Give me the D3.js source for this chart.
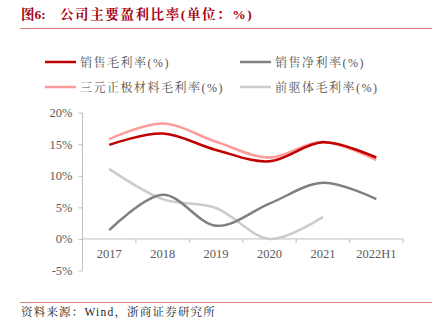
<!DOCTYPE html>
<html>
<head>
<meta charset="utf-8">
<script src="https://cdn.jsdelivr.net/npm/d3@7"></script>
<style>
  html, body { margin: 0; padding: 0; background: #fff; }
  svg { display: block; }
</style>
</head>
<body>
<svg id="chart" width="436" height="329"></svg>
<script>
// 年份
var years = ["2017", "2018", "2019", "2020", "2021", "2022H1"];
// 各项盈利比率 (%)
var grossMargin = [14.9, 16.7, 14.1, 12.3, 15.3, 12.9];
var netMargin = [1.4, 7.0, 2.1, 5.6, 8.9, 6.3];
var cathodeMargin = [15.8, 18.3, 15.4, 12.9, 15.4, 12.5];
var precursorMargin = [11.1, 6.3, 4.9, 0.0, 3.5];
var yTicks = [-5, 0, 5, 10, 15, 20];

var series = [
  { name: "销售毛利率(%)", values: grossMargin, color: "#c00000" },
  { name: "销售净利率(%)", values: netMargin, color: "#808080" },
  { name: "三元正极材料毛利率(%)", values: cathodeMargin, color: "#ff9b9b" },
  { name: "前驱体毛利率(%)", values: precursorMargin, color: "#cccccc" }
];
// 绘制顺序：浅色在下
var drawOrder = [3, 1, 2, 0];

var serif = "'Liberation Serif', 'Times New Roman', 'Noto Serif CJK SC', 'Noto Sans CJK SC', serif";
var svg = d3.select("#chart");

// 标题与分隔线
svg.append("text")
  .attr("x", 21).attr("y", 19)
  .attr("fill", "#a80010")
  .attr("font-family", serif)
  .attr("font-size", 13.5)
  .attr("font-weight", "bold")
  .text("图6:");
svg.append("text")
  .attr("x", 60).attr("y", 19)
  .attr("fill", "#a80010")
  .attr("font-family", serif)
  .attr("font-size", 13.5)
  .attr("font-weight", "bold")
  .attr("letter-spacing", 1.6)
  .text("公司主要盈利比率(单位：%)");
svg.append("line")
  .attr("x1", 20).attr("x2", 432).attr("y1", 28.5).attr("y2", 28.5)
  .attr("stroke", "#e08080").attr("stroke-width", 1.2);

svg.append("line")
  .attr("x1", 20).attr("x2", 432).attr("y1", 302.5).attr("y2", 302.5)
  .attr("stroke", "#e08080").attr("stroke-width", 1.2);
svg.append("text")
  .attr("x", 21).attr("y", 316)
  .attr("fill", "#222")
  .attr("font-family", serif)
  .attr("font-size", 11.5)
  .attr("letter-spacing", 1.2)
  .text("资料来源：Wind，浙商证券研究所");

// 图例
var legendPos = [[45, 62], [240, 62], [45, 87], [240, 87]];
series.forEach(function(s, i) {
  var g = svg.append("g").attr("transform", "translate(" + legendPos[i][0] + "," + legendPos[i][1] + ")");
  g.append("line").attr("x1", 0).attr("x2", 31).attr("y1", 0).attr("y2", 0)
    .attr("stroke", s.color).attr("stroke-width", 2.5);
  g.append("text").attr("x", 35).attr("y", 4.5)
    .attr("fill", "#555")
    .attr("font-family", serif)
    .attr("font-size", 12)
    .attr("letter-spacing", 1.5)
    .text(s.name);
});

// 坐标轴
var plotLeft = 82.5, plotRight = 403;
var x = d3.scaleBand().domain(years).range([plotLeft, plotRight]);
var y = d3.scaleLinear().domain([-5, 20]).range([270.5, 112.7]);

var yAxis = svg.append("g")
  .attr("transform", "translate(" + plotLeft + ",0)")
  .call(d3.axisLeft(y).tickValues(yTicks).tickSize(4).tickPadding(6)
    .tickFormat(function(d) { return d + "%"; }));
yAxis.select(".domain").attr("stroke", "#bfbfbf").attr("d", "M0," + y(-5) + "V" + y(20));
yAxis.selectAll(".tick line").attr("stroke", "#bfbfbf");
yAxis.selectAll(".tick text")
  .attr("fill", "#595959").attr("font-family", serif).attr("font-size", 12.5);

var xAxis = svg.append("g")
  .attr("transform", "translate(0," + y(0) + ")")
  .call(d3.axisBottom(x).tickSize(0).tickPadding(10));
xAxis.select(".domain").attr("stroke", "#bfbfbf").attr("d", "M" + plotLeft + ",0H" + plotRight);
xAxis.selectAll(".tick text")
  .attr("fill", "#595959").attr("font-family", serif).attr("font-size", 12.5);
// 类别分隔刻度
xAxis.selectAll(".sep")
  .data(years.concat(["end"]))
  .enter().append("line")
  .attr("x1", function(d, i) { return plotLeft + i * x.step(); })
  .attr("x2", function(d, i) { return plotLeft + i * x.step(); })
  .attr("y1", 0).attr("y2", 4)
  .attr("stroke", "#bfbfbf");

// 平滑折线
var line = d3.line()
  .x(function(d, i) { return x(years[i]) + x.bandwidth() / 2; })
  .y(function(d) { return y(d); })
  .curve(d3.curveCardinal.tension(0));

drawOrder.forEach(function(k) {
  var s = series[k];
  svg.append("path")
    .datum(s.values)
    .attr("fill", "none")
    .attr("stroke", s.color)
    .attr("stroke-width", 2.5)
    .attr("stroke-linecap", "butt")
    .attr("d", line);
});
</script>
</body>
</html>
